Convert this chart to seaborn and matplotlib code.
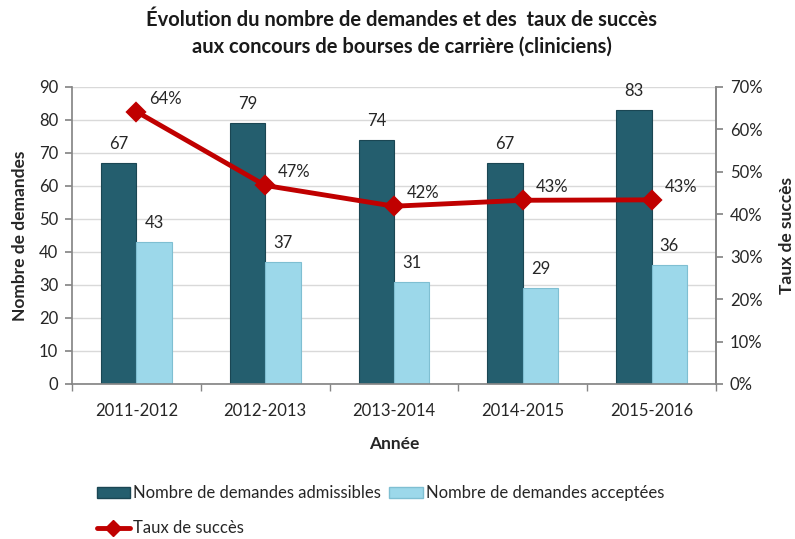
import matplotlib
matplotlib.use("Agg")
import matplotlib.pyplot as plt
import seaborn as sns
import pandas as pd
from matplotlib.ticker import PercentFormatter, FixedLocator
from matplotlib.patches import Patch
from matplotlib.lines import Line2D

annees = ["2011-2012", "2012-2013", "2013-2014", "2014-2015", "2015-2016"]
admissibles = [67, 79, 74, 67, 83]
acceptees = [43, 37, 31, 29, 36]
taux = [0.642, 0.468, 0.419, 0.433, 0.434]
taux_labels = ["64%", "47%", "42%", "43%", "43%"]

lab_adm = "Nombre de demandes admissibles"
lab_acc = "Nombre de demandes acceptées"
lab_taux = "Taux de succès"

sns.set_theme(style="white")
plt.rcParams["font.family"] = ["Lato", "DejaVu Sans"]

dark = "#245E6E"
light = "#9CD8EA"
red = "#C00000"
FS = 12

df = pd.DataFrame({
    "Année": annees * 2,
    "valeur": admissibles + acceptees,
    "serie": [lab_adm] * 5 + [lab_acc] * 5,
})
df_t = pd.DataFrame({"Année": annees, "taux": taux})

fig = plt.figure(figsize=(7.95, 5.39), dpi=100)
ax = fig.add_axes([0.0906, 0.2876, 0.81, 0.551])

sns.barplot(data=df, x="Année", y="valeur", hue="serie", order=annees,
            hue_order=[lab_adm, lab_acc], palette=[dark, light], saturation=1,
            width=0.55, gap=0, ax=ax, legend=False, edgecolor="none")

for k, (cont, vals) in enumerate(zip(ax.containers, [admissibles, acceptees])):
    ec = "#1A4653" if k == 0 else "#7FBFD2"
    for bar, v in zip(cont, vals):
        bar.set_edgecolor(ec)
        bar.set_linewidth(0.8)
        ax.text(bar.get_x() + bar.get_width() / 2, v + 3.3, str(v),
                ha="center", va="bottom", fontsize=FS, color="#262626")

ax.set_ylim(0, 90)
ax.set_xlim(-0.5, 4.5)
ax.yaxis.set_major_locator(FixedLocator(range(0, 91, 10)))
ax.grid(axis="y", color="#D9D9D9", linewidth=1)
ax.set_axisbelow(True)
ax.set_xlabel("Année", fontsize=12.5, fontweight="bold", labelpad=12)
ax.set_ylabel("Nombre de demandes", fontsize=12.5, fontweight="bold", labelpad=8)
ax.tick_params(axis="y", labelsize=FS, colors="#262626", length=5, left=True, color="#868686", pad=5)
ax.tick_params(axis="x", labelsize=FS, colors="#262626", length=0, pad=14)
ax.set_xticks([i - 0.5 for i in range(6)], minor=True)
ax.tick_params(axis="x", which="minor", length=5, bottom=True, color="#868686")
ax.spines["top"].set_visible(False)
for s in ["left", "bottom", "right"]:
    ax.spines[s].set_color("#868686")

ax2 = ax.twinx()
sns.pointplot(data=df_t, x="Année", y="taux", order=annees, color=red,
              markers="D", markersize=8, linewidth=3.5, ax=ax2)
ax2.set_ylim(0, 0.7)
ax2.set_xlim(-0.5, 4.5)
ax2.yaxis.set_major_locator(FixedLocator([i / 10 for i in range(8)]))
ax2.yaxis.set_major_formatter(PercentFormatter(1.0, decimals=0))
ax2.set_ylabel("Taux de succès", fontsize=12.5, fontweight="bold", labelpad=12)
ax2.tick_params(axis="y", labelsize=FS, colors="#262626", length=5, right=True, color="#868686", pad=5)
ax2.spines["top"].set_visible(False)
ax2.spines["right"].set_color("#868686")
ax2.spines["left"].set_visible(False)
ax2.spines["bottom"].set_visible(False)
ax2.grid(False)
for i, (t, lab) in enumerate(zip(taux, taux_labels)):
    ax2.text(i + 0.1, t + 0.012, lab, ha="left", va="bottom", fontsize=FS, color="#262626")

fig.suptitle("Évolution du nombre de demandes et des  taux de succès\naux concours de bourses de carrière (cliniciens)",
             x=0.505, y=0.982, fontsize=14.5, fontweight="bold", color="#1a1a1a", linespacing=1.45)

handles = [
    Patch(facecolor=dark, edgecolor="#1A4653", label=lab_adm),
    Line2D([0], [0], color=red, lw=3.5, marker="D", markersize=8, label=lab_taux),
    Patch(facecolor=light, edgecolor="#7FBFD2", label=lab_acc),
]
fig.legend(handles=handles, ncol=2, loc="upper left", bbox_to_anchor=(0.113, 0.112),
           frameon=False, fontsize=12, handlelength=2.0, handletextpad=0.2,
           columnspacing=0.5, labelspacing=1.15, borderaxespad=0)

fig.savefig("out.png", dpi=100)
